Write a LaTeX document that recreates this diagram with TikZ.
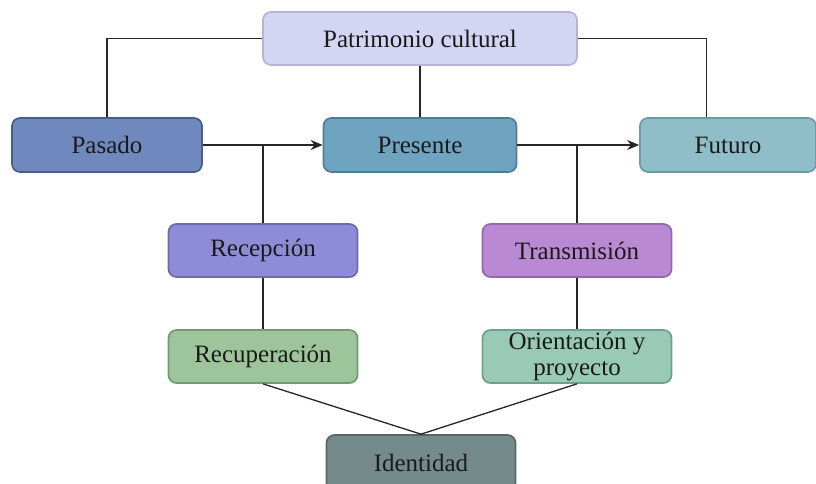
\documentclass[tikz,border=0pt]{standalone}
\usepackage{fontspec}
\setmainfont{Liberation Serif}
\usetikzlibrary{arrows.meta,calc}

\definecolor{patfill}{HTML}{D4D4F3}\definecolor{patline}{HTML}{B4B4D6}
\definecolor{pasfill}{HTML}{6F88BE}\definecolor{pasline}{HTML}{4B5E86}
\definecolor{prefill}{HTML}{6FA4C1}\definecolor{preline}{HTML}{4F7E96}
\definecolor{futfill}{HTML}{90BEC8}\definecolor{futline}{HTML}{6E9AA4}
\definecolor{recfill}{HTML}{8E8CD6}\definecolor{recline}{HTML}{6C6AB0}
\definecolor{trafill}{HTML}{BA89D3}\definecolor{traline}{HTML}{9467AE}
\definecolor{rcufill}{HTML}{9DC49A}\definecolor{rculine}{HTML}{739A71}
\definecolor{orifill}{HTML}{99CAB6}\definecolor{oriline}{HTML}{6EA08C}
\definecolor{idefill}{HTML}{758A8A}\definecolor{ideline}{HTML}{566868}
\definecolor{txt}{HTML}{1A1A1A}

\tikzset{
  box/.style={rounded corners=8pt, line width=1.7pt, align=center,
    text=txt, font=\fontsize{25}{29}\selectfont, inner sep=0pt},
  link/.style={line width=1.3pt, draw=black!85},
  arrowlink/.style={link, -{Stealth[length=12pt,width=10pt]}}
}

\begin{document}
\begin{tikzpicture}[x=1pt,y=-1pt]
\useasboundingbox (0,0) rectangle (816,484);

\node[box, fill=patfill, draw=patline, minimum width=314pt, minimum height=53pt] (pat) at (420,38.5) {Patrimonio cultural};
\node[box, fill=pasfill, draw=pasline, minimum width=190pt, minimum height=54pt] (pas) at (107,145) {Pasado};
\node[box, fill=prefill, draw=preline, minimum width=193pt, minimum height=54pt] (pre) at (420,145) {Presente};
\node[box, fill=futfill, draw=futline, minimum width=176pt, minimum height=54pt] (fut) at (728,145) {Futuro};
\node[box, fill=recfill, draw=recline, minimum width=189pt, minimum height=53pt] (rec) at (263,250.5) {Recepción};
\node[box, fill=trafill, draw=traline, minimum width=189pt, minimum height=53pt] (tra) at (577,250.5) {Transmisión};
\node[box, fill=rcufill, draw=rculine, minimum width=189pt, minimum height=53pt] (rcu) at (263,356.5) {Recuperación};
\node[box, fill=orifill, draw=oriline, minimum width=189pt, minimum height=53pt] (ori) at (577,356.5) {Orientación y\\[-3pt]proyecto};
\node[box, fill=idefill, draw=ideline, minimum width=189pt, minimum height=56pt] (ide) at (421,463) {Identidad};

% heritage feeds the three times
\draw[link] (pas.north) |- (pat.west);
\draw[link] (pat.east) -| ([xshift=67pt]fut.north west);
\draw[link] (pat.south) -- (pre.north);

% flow of time
\draw[arrowlink] (pas.east) -- (pre.west);
\draw[arrowlink] (pre.east) -- (fut.west);
\draw[link] (rec.north) -- (rec.north |- pas.east);
\draw[link] (tra.north) -- (tra.north |- pre.east);

% processes
\draw[link] (rec.south) -- (rcu.north);
\draw[link] (tra.south) -- (ori.north);
\draw[link] (rcu.south) -- (ide.north);
\draw[link] (ori.south) -- (ide.north);
\end{tikzpicture}
\end{document}
